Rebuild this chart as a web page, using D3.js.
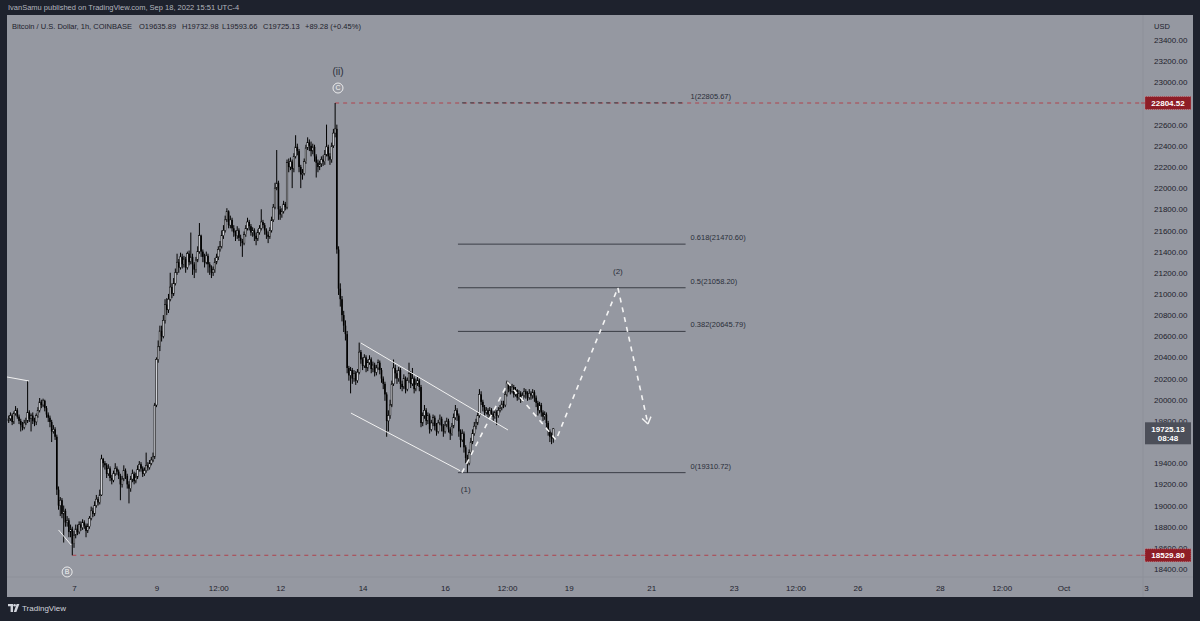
<!DOCTYPE html>
<html><head><meta charset="utf-8">
<script src="https://cdn.jsdelivr.net/npm/d3@7"></script>
<style>
html,body{margin:0;padding:0;background:#1e222d;}
svg{display:block;}
text{font-family:"Liberation Sans",Arial,sans-serif;}
</style></head><body>
<svg id="c" width="1200" height="621"></svg>
<script>
// ---------------- DATA ----------------
const firstCandle = "2022-09-05T10:00:00Z"; // 1h candles
const firstOpen = 19800;
const closes = [
19820,19850,19790,19870,19900,19840,19800,19760,19740,19780,
19800,19880,19820,19850,19800,19790,19850,19900,19980,19950,
19990,19920,19860,19830,19790,19700,19720,19650,19150,19000,
19050,18920,18950,18840,18860,18750,18780,18640,18720,18780,
18750,18820,18790,18840,18810,18760,18800,18880,18950,18920,
19000,19060,19030,19100,19440,19400,19380,19300,19350,19260,
19240,19300,19350,19320,19280,19200,19250,19330,19280,19200,
19160,19250,19300,19230,19270,19340,19390,19350,19300,19330,
19380,19360,19400,19430,19460,19950,20380,20500,20650,20600,
20750,20900,20850,20950,21065,21000,21100,21200,21300,21250,
21350,21280,21330,21250,21380,21300,21350,21280,21230,21320,
21400,21550,21400,21350,21300,21360,21280,21250,21200,21230,
21300,21350,21420,21450,21550,21600,21700,21780,21650,21700,
21620,21580,21550,21600,21530,21500,21480,21560,21620,21680,
21640,21580,21600,21550,21520,21580,21620,21680,21650,21600,
21560,21540,21600,21700,21820,22000,22050,21800,21750,21780,
21850,21820,22240,22200,22250,22180,22300,22390,22350,22200,
22130,22140,22250,22380,22430,22400,22350,22390,22300,22240,
22200,22230,22270,22250,22320,22390,22300,22270,22400,22520,
22560,21420,21050,20950,20800,20700,20620,20300,20230,20280,
20200,20250,20180,20260,20450,20380,20320,20400,20300,20350,
20380,20290,20330,20260,20300,20350,20280,20200,20150,20050,
19800,19850,19950,20150,20300,20250,20200,20280,20150,20120,
20200,20100,20180,20250,20150,20200,20100,20150,20180,20120,
19780,19850,19900,19800,19850,19720,19780,19830,19750,19700,
19780,19820,19750,19700,19760,19800,19720,19680,19750,19830,
19900,19850,19700,19620,19680,19550,19450,19400,19500,19600,
19680,19750,19780,19850,20050,19980,19930,19880,19900,19860,
19900,19870,19840,19880,19850,19900,19920,19960,19950,20050,
20160,20100,20080,20120,20050,20090,20020,20060,20000,20040,
20080,20050,20020,20060,20040,20070,20020,19970,19900,19950,
19880,19840,19860,19780,19700,19650,19635.89,19725.13];
const highs = [
19850,19880,19870,19890,19940,19920,19860,19820,19790,19810,
19830,20177,19900,19870,19880,19830,19870,19930,20016,20000,
20010,20000,19940,19880,19850,19810,19760,19740,19670,19180,
19080,19070,19000,18970,18900,18880,18820,18800,18760,18820,
18820,18850,18850,18870,18860,18830,18830,18900,18990,18980,
19040,19100,19080,19150,19480,19450,19420,19400,19390,19370,
19290,19330,19400,19370,19340,19300,19280,19380,19350,19300,
19230,19280,19340,19320,19310,19380,19420,19410,19370,19360,
19500,19410,19430,19460,19500,19970,20400,20560,20700,20700,
20800,20950,20960,21000,21200,21100,21150,21240,21380,21330,
21390,21380,21360,21350,21400,21410,21580,21380,21300,21350,
21450,21670,21560,21420,21380,21400,21380,21300,21270,21260,
21340,21380,21450,21500,21600,21650,21740,21810,21790,21740,
21720,21650,21600,21640,21620,21560,21520,21590,21650,21720,
21700,21660,21630,21620,21580,21610,21650,21800,21700,21670,
21620,21590,21630,21730,21850,22050,22360,22070,21830,21810,
21880,21870,22270,22280,22290,22270,22330,22500,22420,22370,
22220,22180,22280,22410,22480,22460,22440,22420,22410,22320,
22270,22260,22300,22310,22360,22600,22410,22330,22430,22560,
22804.52,22600,21450,21100,20980,20840,20750,20650,20320,20310,
20300,20280,20270,20290,20540,20470,20400,20430,20420,20380,
20420,20400,20360,20350,20330,20380,20370,20300,20220,20170,
20070,19900,20000,20180,20380,20330,20280,20310,20300,20180,
20240,20220,20210,20350,20270,20300,20220,20200,20220,20200,
20140,19880,19950,19920,19880,19870,19810,19860,19850,19780,
19810,19860,19840,19770,19800,19830,19820,19740,19780,19870,
19950,19920,19870,19720,19720,19700,19570,19480,19530,19640,
19720,19790,19820,19880,20100,20080,20000,19950,19930,19920,
19930,19920,19890,19910,19900,19930,19950,19990,19990,20080,
20180,20170,20130,20150,20140,20120,20100,20090,20080,20070,
20110,20100,20080,20100,20080,20100,20090,20040,19990,19980,
19970,19900,19890,19880,19800,19720,19690,19732.98];
const lows = [
19780,19800,19760,19770,19850,19820,19770,19700,19710,19720,
19760,19780,19790,19700,19770,19750,19760,19830,19880,19920,
19930,19890,19830,19790,19740,19600,19680,19620,19100,18960,
18900,18880,18650,18800,18800,18700,18700,18529.8,18600,18690,
18720,18730,18760,18770,18780,18700,18740,18780,18860,18890,
18900,18980,19000,19010,19090,19360,19340,19260,19280,19230,
19200,19220,19280,19290,19250,19050,19170,19230,19250,19160,
19020,19130,19220,19200,19210,19250,19320,19320,19270,19280,
19310,19330,19340,19380,19410,19440,19930,20350,20460,20550,
20580,20720,20800,20820,20930,20960,20980,21080,21180,21200,
21230,21240,21250,21200,21230,21270,21280,21180,21150,21200,
21300,21380,21350,21300,21250,21280,21200,21180,21150,21170,
21200,21280,21320,21400,21430,21520,21580,21680,21620,21620,
21590,21540,21500,21520,21500,21450,21350,21460,21540,21600,
21600,21550,21540,21500,21460,21500,21560,21600,21620,21560,
21520,21480,21520,21580,21680,21800,21980,21700,21700,21720,
21760,21790,21800,22150,22170,22000,22150,22280,22310,22150,
22000,22080,22120,22230,22360,22350,22300,22320,22250,22100,
22150,22170,22200,22210,22220,22300,22260,22220,22240,22380,
22480,21380,20990,20880,20740,20640,20560,20250,20180,20060,
20150,20170,20140,20160,20240,20340,20280,20300,20260,20270,
20330,20250,20260,20220,20230,20280,20240,20160,20100,19990,
19650,19700,19820,19930,20130,20200,20150,20170,20100,20080,
20100,20060,20080,20160,20110,20130,20060,20080,20130,20080,
19740,19750,19820,19760,19770,19680,19700,19750,19710,19660,
19680,19760,19700,19650,19680,19740,19690,19620,19660,19730,
19810,19800,19650,19550,19600,19500,19400,19310.72,19380,19480,
19580,19660,19720,19760,19830,19950,19890,19850,19860,19830,
19840,19840,19800,19820,19760,19830,19880,19900,19920,19930,
20030,20070,20050,20060,20020,20030,19990,20000,19970,19980,
20020,20010,19990,20000,20000,20010,19980,19930,19850,19870,
19840,19800,19810,19740,19660,19600,19580,19593.66];

const priceTicks = d3.range(18400, 23401, 200);
const timeTicks = ["2022-09-07T00:00Z","2022-09-09T00:00Z","2022-09-10T12:00Z","2022-09-12T00:00Z",
  "2022-09-14T00:00Z","2022-09-16T00:00Z","2022-09-17T12:00Z","2022-09-19T00:00Z","2022-09-21T00:00Z",
  "2022-09-23T00:00Z","2022-09-24T12:00Z","2022-09-26T00:00Z","2022-09-28T00:00Z","2022-09-29T12:00Z",
  "2022-10-01T00:00Z","2022-10-03T00:00Z"];
const timeLabels = ["7","9","12:00","12","14","16","12:00","19","21","23","12:00","26","28","12:00","Oct","3"];

const highMark = {time:"2022-09-13T08:00Z", price:22804.52};
const lowMark = {time:"2022-09-06T23:00Z", price:18529.80};
const lastPrice = 19725.13, countdown = "08:48";

const fibLevels = [1, 0.618, 0.5, 0.382, 0];
const fibPrices = [22805.67, 21470.60, 21058.20, 20645.79, 19310.72];
const fibStart = "2022-09-16T07:30Z", fibEnd = "2022-09-21T20:00Z";

const projection = [["2022-09-16T09:50Z",19310],["2022-09-17T12:36Z",20160],["2022-09-18T16:36Z",19620],
  ["2022-09-20T04:36Z",21058],["2022-09-20T22:06Z",19770]];
const channelUpper = [["2022-09-13T23:00Z",20536],["2022-09-17T12:36Z",19714]];
const channelLower = [["2022-09-13T17:12Z",19874],["2022-09-16T08:40Z",19330]];
const extraLines = [[["2022-09-05T09:00Z",20215],["2022-09-05T21:48Z",20177]],
  [["2022-09-06T15:00Z",18769],["2022-09-06T22:20Z",18627]]];

const waveLabels = [
  {time:"2022-09-13T09:40Z", price:23098, text:"(ii)", size:10},
  {time:"2022-09-16T12:00Z", price:19150, text:"(1)", size:8},
  {time:"2022-09-20T04:36Z", price:21205, text:"(2)", size:8}];
const circleLabels = [{time:"2022-09-13T09:40Z", price:22946, text:"C"},
  {time:"2022-09-06T20:00Z", price:18372, text:"B"}];

const header = "IvanSamu published on TradingView.com, Sep 18, 2022 15:51 UTC-4";
const legendParts = [["Bitcoin / U.S. Dollar, 1h, COINBASE",12],["O19635.89",139],["H19732.98",182],
  ["L19593.66",222],["C19725.13",263],["+89.28 (+0.45%)",305]];

// ---------------- DRAW ----------------
const W = 1200, H = 621;
const P = {left:7, right:1143, top:15, bottom:577, axisRight:1193, timeBottom:597};
const svg = d3.select("#c");
const bg = "#9598a1", dark = "#1e222d", ink = "#1e222d";

svg.append("rect").attr("width",W).attr("height",H).attr("fill",dark);
svg.append("rect").attr("x",P.left).attr("y",P.top).attr("width",P.axisRight-P.left)
  .attr("height",P.timeBottom-P.top).attr("fill",bg);

const x = d3.scaleUtc().domain([new Date("2022-09-07T00:00Z"), new Date("2022-10-03T00:00Z")]).range([74,1146]);
const y = d3.scaleLinear().domain([18400, 23400]).range([569, 40]);
const pt = d => [x(new Date(d[0])), y(d[1])];

const t0 = new Date(firstCandle).getTime();
const candles = closes.map((c,i)=>({t:new Date(t0+i*3600e3), o: i? closes[i-1] : firstOpen, h:highs[i], l:lows[i], c}));

svg.append("defs").append("clipPath").attr("id","pc").append("rect")
  .attr("x",P.left).attr("y",P.top).attr("width",P.right-P.left).attr("height",P.bottom-P.top);
const g = svg.append("g").attr("clip-path","url(#pc)");

// boxes on the price scale hide the tick labels under them
const hidden = v => Math.abs(y(v) - y(highMark.price)) < 5 || Math.abs(y(v) - (y(lastPrice) + 7)) < 9;

// price axis
const yAxis = d3.axisRight(y).tickValues(priceTicks.filter(v=>!hidden(v))).tickFormat(d3.format(".2f")).tickSize(0).tickPadding(11);
const ya = svg.append("g").attr("transform",`translate(${P.right},0)`).call(yAxis);
ya.select(".domain").attr("stroke","#8d9099").attr("d",`M0,${P.top}V${P.timeBottom}`);
ya.selectAll("text").attr("font-size",8).attr("fill",ink);
svg.append("text").attr("x",1154).attr("y",29).attr("font-size",7.5).attr("fill",ink).text("USD");

// time axis
const xAxis = d3.axisBottom(x).tickValues(timeTicks.map(d=>new Date(d))).tickFormat((d,i)=>timeLabels[i]).tickSize(0).tickPadding(8);
const xa = svg.append("g").attr("transform",`translate(0,${P.bottom})`).call(xAxis);
xa.select(".domain").attr("stroke","#8d9099").attr("d",`M${P.left},0H${P.axisRight}`);
xa.selectAll("text").attr("font-size",8).attr("fill",ink);

// red dashed lines for high/low
[highMark, lowMark].forEach(m=>{
  g.append("line").attr("x1",x(new Date(m.time))).attr("x2",P.right).attr("y1",y(m.price)).attr("y2",y(m.price))
   .attr("stroke","#b0434d").attr("stroke-width",1).attr("stroke-dasharray","4,4");
});

// fib lines
const fx1 = x(new Date(fibStart)), fx2 = x(new Date(fibEnd));
fibLevels.forEach((lv,i)=>{
  g.append("line").attr("x1",fx1).attr("x2",fx2).attr("y1",y(fibPrices[i])).attr("y2",y(fibPrices[i]))
   .attr("stroke","#3b3e46").attr("stroke-width",1).attr("stroke-dasharray", i===0 ? "4,4" : null)
   .attr("stroke-dashoffset", i===0 ? 4 : 0);
  svg.append("text").attr("x",fx2+5).attr("y",y(fibPrices[i])-4).attr("font-size",7.5).attr("fill","#2a2e39")
   .text(`${lv}(${d3.format(".2f")(fibPrices[i])})`);
});

// candles
const cg = g.append("g");
cg.selectAll("line.w").data(candles).join("line").attr("class","w")
  .attr("x1",d=>x(d.t)).attr("x2",d=>x(d.t)).attr("y1",d=>y(d.h)).attr("y2",d=>y(d.l))
  .attr("stroke","#000").attr("stroke-width",1);
cg.selectAll("rect").data(candles).join("rect")
  .attr("x",d=>x(d.t)-0.8).attr("width",1.6)
  .attr("y",d=>y(Math.max(d.o,d.c))).attr("height",d=>Math.max(1, Math.abs(y(d.o)-y(d.c))))
  .attr("fill",d=>d.c>=d.o ? "#cfd1d6" : "#000").attr("stroke",d=>d.c>=d.o ? "#000" : "none").attr("stroke-width",0.5);

// channel & extra white lines
[channelUpper, channelLower, ...extraLines].forEach(l=>{
  const a = pt(l[0]), b = pt(l[1]);
  g.append("line").attr("x1",a[0]).attr("y1",a[1]).attr("x2",b[0]).attr("y2",b[1])
   .attr("stroke","#f2f2f2").attr("stroke-width",1);
});

// projection dashed path
const pp = projection.map(pt);
g.append("path").attr("d",d3.line()(pp)).attr("fill","none").attr("stroke","#f4f4f4")
  .attr("stroke-width",1.6).attr("stroke-dasharray","5,5");
const tip = pp[pp.length-1], prev = pp[pp.length-2];
const ang = Math.atan2(tip[1]-prev[1], tip[0]-prev[0]);
[-1,1].forEach(s=>{
  const a2 = ang + Math.PI + s*0.6;
  g.append("line").attr("x1",tip[0]).attr("y1",tip[1]).attr("x2",tip[0]+8*Math.cos(a2)).attr("y2",tip[1]+8*Math.sin(a2))
   .attr("stroke","#f4f4f4").attr("stroke-width",1.4);
});

// labels
waveLabels.forEach(l=>{
  svg.append("text").attr("x",x(new Date(l.time))).attr("y",y(l.price)).attr("text-anchor","middle")
   .attr("dominant-baseline","middle").attr("font-size",l.size).attr("fill","#2a2e39").text(l.text);
});
circleLabels.forEach(l=>{
  const cx = x(new Date(l.time)), cy = y(l.price);
  svg.append("circle").attr("cx",cx).attr("cy",cy).attr("r",5).attr("fill","none").attr("stroke","#f4f4f4").attr("stroke-width",0.9);
  svg.append("text").attr("x",cx).attr("y",cy+0.3).attr("text-anchor","middle").attr("dominant-baseline","middle")
   .attr("font-size",7).attr("fill","#f4f4f4").text(l.text);
});

// price boxes
function priceBox(price, fill, lines, dotted){
  const cy = y(price), h = lines.length>1 ? 22 : 13, top = lines.length>1 ? cy-6.5 : cy-h/2;
  svg.append("rect").attr("x",1145).attr("y",top).attr("width",46).attr("height",h).attr("fill",fill)
   .attr("stroke", dotted ? "#d98a90" : "none").attr("stroke-width",0.6).attr("stroke-dasharray", dotted ? "1,1" : null);
  lines.forEach((t,i)=>svg.append("text").attr("x",1168).attr("y",top+9.5+i*9.5).attr("text-anchor","middle")
   .attr("font-size",8).attr("font-weight","bold").attr("fill","#ffffff").text(t));
  if (dotted) svg.append("line").attr("x1",1141).attr("x2",1145).attr("y1",cy).attr("y2",cy).attr("stroke","#b0434d");
}
priceBox(highMark.price, "#8e1d26", [d3.format(".2f")(highMark.price)], true);
priceBox(lowMark.price, "#8e1d26", [d3.format(".2f")(lowMark.price)], true);
priceBox(lastPrice, "#4c4f59", [d3.format(".2f")(lastPrice), countdown], false);

// header & legend
svg.append("text").attr("x",8).attr("y",10).attr("font-size",7.5).attr("fill","#b2b5be").text(header);
legendParts.forEach(p=>svg.append("text").attr("x",p[1]).attr("y",29).attr("font-size",7.5).attr("fill",ink).text(p[0]));

// footer logo
const lg = svg.append("g").attr("transform","translate(8,604)");
lg.append("path").attr("d","M0,0H5V8H2.6V2.2H0Z").attr("fill","#d1d4dc");
lg.append("circle").attr("cx",6.6).attr("cy",1.3).attr("r",1.3).attr("fill","#d1d4dc");
lg.append("path").attr("d","M8.6,0H11.4L8.4,8H5.8Z").attr("fill","#d1d4dc");
svg.append("text").attr("x",22).attr("y",611).attr("font-size",8).attr("fill","#d1d4dc").text("TradingView");
</script>
</body></html>
